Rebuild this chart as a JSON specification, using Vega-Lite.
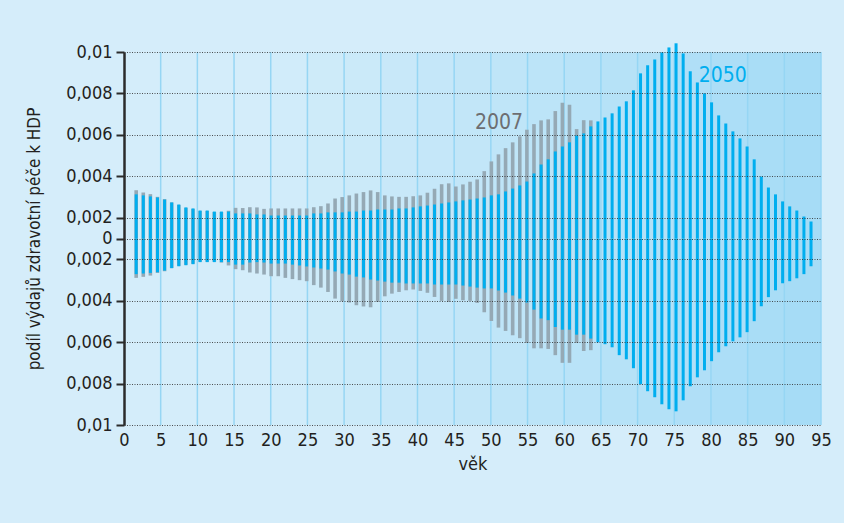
{
  "$schema": "https://vega.github.io/schema/vega-lite/v6.json",
  "width": 697,
  "height": 373,
  "autosize": {"type": "none"},
  "padding": {"left": 124, "top": 52, "right": 23, "bottom": 98},
  "background": "#d5edfa",
  "config": {
    "view": {"stroke": null},
    "font": "'DejaVu Sans Condensed', Roboto, sans-serif",
    "axis": {"labelFont": "'DejaVu Sans Condensed', Roboto, sans-serif", "titleFont": "'DejaVu Sans Condensed', Roboto, sans-serif"}
  },
  "datasets": {
    "bands": [
      {"start": 0, "end": 5}, {"start": 5, "end": 10}, {"start": 10, "end": 15}, {"start": 15, "end": 20},
      {"start": 20, "end": 25}, {"start": 25, "end": 30}, {"start": 30, "end": 35}, {"start": 35, "end": 40},
      {"start": 40, "end": 45}, {"start": 45, "end": 50}, {"start": 50, "end": 55}, {"start": 55, "end": 60},
      {"start": 60, "end": 65}, {"start": 65, "end": 70}, {"start": 70, "end": 75}, {"start": 75, "end": 80},
      {"start": 80, "end": 85}, {"start": 85, "end": 90}, {"start": 90, "end": 95}
    ],
    "labels": [
      {"label": "2007", "age": 51.1, "value": 0.00655, "rok": "2007"},
      {"label": "2050", "age": 81.6, "value": 0.00882, "rok": "2050"}
    ],
    "d": [
      {"age": 0, "up2007": 0.00333, "up2050": 0.00313, "down2050": 0.00272, "down2007": 0.0029},
      {"age": 1, "up2007": 0.00322, "up2050": 0.00308, "down2050": 0.00269, "down2007": 0.00285},
      {"age": 2, "up2007": 0.00314, "up2050": 0.00303, "down2050": 0.00266, "down2007": 0.00279},
      {"age": 3, "up2007": 0.00301, "up2050": 0.00298, "down2050": 0.00263, "down2007": 0.00266},
      {"age": 4, "up2007": 0.0029, "up2050": 0.00288, "down2050": 0.00255, "down2007": 0.00258},
      {"age": 5, "up2007": 0.00274, "up2050": 0.00274, "down2050": 0.00243, "down2007": 0.00243},
      {"age": 6, "up2007": 0.00262, "up2050": 0.00264, "down2050": 0.00234, "down2007": 0.00232},
      {"age": 7, "up2007": 0.00248, "up2050": 0.0025, "down2050": 0.00229, "down2007": 0.00227},
      {"age": 8, "up2007": 0.00243, "up2050": 0.00245, "down2050": 0.00224, "down2007": 0.00222},
      {"age": 9, "up2007": 0.00233, "up2050": 0.00235, "down2050": 0.00214, "down2007": 0.00212},
      {"age": 10, "up2007": 0.00233, "up2050": 0.00235, "down2050": 0.00214, "down2007": 0.00212},
      {"age": 11, "up2007": 0.00228, "up2050": 0.0023, "down2050": 0.00214, "down2007": 0.00212},
      {"age": 12, "up2007": 0.00228, "up2050": 0.0023, "down2050": 0.00214, "down2007": 0.00216},
      {"age": 13, "up2007": 0.00234, "up2050": 0.0023, "down2050": 0.00214, "down2007": 0.0023},
      {"age": 14, "up2007": 0.00248, "up2050": 0.00221, "down2050": 0.00226, "down2007": 0.00248},
      {"age": 15, "up2007": 0.00247, "up2050": 0.00221, "down2050": 0.00226, "down2007": 0.00253},
      {"age": 16, "up2007": 0.00251, "up2050": 0.00221, "down2050": 0.00216, "down2007": 0.00264},
      {"age": 17, "up2007": 0.0025, "up2050": 0.00216, "down2050": 0.00214, "down2007": 0.00269},
      {"age": 18, "up2007": 0.00243, "up2050": 0.00216, "down2050": 0.00216, "down2007": 0.00274},
      {"age": 19, "up2007": 0.00245, "up2050": 0.00211, "down2050": 0.00221, "down2007": 0.00282},
      {"age": 20, "up2007": 0.00245, "up2050": 0.00211, "down2050": 0.00221, "down2007": 0.00282},
      {"age": 21, "up2007": 0.00245, "up2050": 0.00211, "down2050": 0.00221, "down2007": 0.0029},
      {"age": 22, "up2007": 0.00245, "up2050": 0.00211, "down2050": 0.00226, "down2007": 0.00296},
      {"age": 23, "up2007": 0.00245, "up2050": 0.00211, "down2050": 0.0023, "down2007": 0.00301},
      {"age": 24, "up2007": 0.00245, "up2050": 0.00211, "down2050": 0.00235, "down2007": 0.00306},
      {"age": 25, "up2007": 0.00251, "up2050": 0.00221, "down2050": 0.0024, "down2007": 0.00325},
      {"age": 26, "up2007": 0.00256, "up2050": 0.00221, "down2050": 0.00245, "down2007": 0.00337},
      {"age": 27, "up2007": 0.00269, "up2050": 0.00226, "down2050": 0.0025, "down2007": 0.00358},
      {"age": 28, "up2007": 0.00293, "up2050": 0.00226, "down2050": 0.00259, "down2007": 0.0039},
      {"age": 29, "up2007": 0.003, "up2050": 0.00226, "down2050": 0.00269, "down2007": 0.00403},
      {"age": 30, "up2007": 0.00308, "up2050": 0.0023, "down2050": 0.00274, "down2007": 0.00409},
      {"age": 31, "up2007": 0.00317, "up2050": 0.0023, "down2050": 0.00284, "down2007": 0.00422},
      {"age": 32, "up2007": 0.00324, "up2050": 0.00235, "down2050": 0.00288, "down2007": 0.00428},
      {"age": 33, "up2007": 0.00332, "up2050": 0.00235, "down2050": 0.00298, "down2007": 0.00432},
      {"age": 34, "up2007": 0.00324, "up2050": 0.0024, "down2050": 0.00303, "down2007": 0.00406},
      {"age": 35, "up2007": 0.00308, "up2050": 0.0024, "down2050": 0.00308, "down2007": 0.00379},
      {"age": 36, "up2007": 0.00303, "up2050": 0.0024, "down2050": 0.00313, "down2007": 0.00366},
      {"age": 37, "up2007": 0.00301, "up2050": 0.00245, "down2050": 0.00313, "down2007": 0.00358},
      {"age": 38, "up2007": 0.00301, "up2050": 0.00245, "down2050": 0.00317, "down2007": 0.0035},
      {"age": 39, "up2007": 0.00304, "up2050": 0.0025, "down2050": 0.00317, "down2007": 0.00346},
      {"age": 40, "up2007": 0.00308, "up2050": 0.00255, "down2050": 0.00317, "down2007": 0.00353},
      {"age": 41, "up2007": 0.00321, "up2050": 0.00259, "down2050": 0.00317, "down2007": 0.00362},
      {"age": 42, "up2007": 0.0034, "up2050": 0.00264, "down2050": 0.00322, "down2007": 0.00382},
      {"age": 43, "up2007": 0.00362, "up2050": 0.00269, "down2050": 0.00322, "down2007": 0.00401},
      {"age": 44, "up2007": 0.00366, "up2050": 0.00274, "down2050": 0.00322, "down2007": 0.00406},
      {"age": 45, "up2007": 0.00351, "up2050": 0.00279, "down2050": 0.00322, "down2007": 0.00391},
      {"age": 46, "up2007": 0.00361, "up2050": 0.00284, "down2050": 0.00327, "down2007": 0.00398},
      {"age": 47, "up2007": 0.00374, "up2050": 0.00288, "down2050": 0.00332, "down2007": 0.00401},
      {"age": 48, "up2007": 0.00385, "up2050": 0.00293, "down2050": 0.00337, "down2007": 0.00411},
      {"age": 49, "up2007": 0.00425, "up2050": 0.00298, "down2050": 0.00341, "down2007": 0.00456},
      {"age": 50, "up2007": 0.00472, "up2050": 0.00308, "down2050": 0.00341, "down2007": 0.00498},
      {"age": 51, "up2007": 0.00506, "up2050": 0.00313, "down2050": 0.00351, "down2007": 0.0053},
      {"age": 52, "up2007": 0.00536, "up2050": 0.00327, "down2050": 0.00361, "down2007": 0.00546},
      {"age": 53, "up2007": 0.00564, "up2050": 0.00341, "down2050": 0.00375, "down2007": 0.00567},
      {"age": 54, "up2007": 0.00593, "up2050": 0.00356, "down2050": 0.0039, "down2007": 0.00581},
      {"age": 55, "up2007": 0.00625, "up2050": 0.00375, "down2050": 0.00409, "down2007": 0.00604},
      {"age": 56, "up2007": 0.00652, "up2050": 0.00414, "down2050": 0.00443, "down2007": 0.0063},
      {"age": 57, "up2007": 0.0067, "up2050": 0.00457, "down2050": 0.00486, "down2007": 0.0063},
      {"age": 58, "up2007": 0.00675, "up2050": 0.00482, "down2050": 0.00494, "down2007": 0.00633},
      {"age": 59, "up2007": 0.00715, "up2050": 0.0052, "down2050": 0.00527, "down2007": 0.00663},
      {"age": 60, "up2007": 0.00755, "up2050": 0.00544, "down2050": 0.0054, "down2007": 0.007},
      {"age": 61, "up2007": 0.00746, "up2050": 0.00564, "down2050": 0.0054, "down2007": 0.007},
      {"age": 62, "up2007": 0.00628, "up2050": 0.00597, "down2050": 0.00564, "down2007": 0.00604},
      {"age": 63, "up2007": 0.00671, "up2050": 0.00607, "down2050": 0.00564, "down2007": 0.00643},
      {"age": 64, "up2007": 0.0067, "up2050": 0.00641, "down2050": 0.00583, "down2007": 0.00639},
      {"age": 65, "up2007": null, "up2050": 0.00665, "down2050": 0.00601, "down2007": null},
      {"age": 66, "up2007": null, "up2050": 0.00684, "down2050": 0.0061, "down2007": null},
      {"age": 67, "up2007": null, "up2050": 0.00704, "down2050": 0.00625, "down2007": null},
      {"age": 68, "up2007": null, "up2050": 0.00737, "down2050": 0.00663, "down2007": null},
      {"age": 69, "up2007": null, "up2050": 0.00762, "down2050": 0.00683, "down2007": null},
      {"age": 70, "up2007": null, "up2050": 0.00815, "down2050": 0.00726, "down2007": null},
      {"age": 71, "up2007": null, "up2050": 0.00897, "down2050": 0.00803, "down2007": null},
      {"age": 72, "up2007": null, "up2050": 0.00936, "down2050": 0.00837, "down2007": null},
      {"age": 73, "up2007": null, "up2050": 0.00964, "down2050": 0.00866, "down2007": null},
      {"age": 74, "up2007": null, "up2050": 0.00998, "down2050": 0.009, "down2007": null},
      {"age": 75, "up2007": null, "up2050": 0.01022, "down2050": 0.00924, "down2007": null},
      {"age": 76, "up2007": null, "up2050": 0.01042, "down2050": 0.00934, "down2007": null},
      {"age": 77, "up2007": null, "up2050": 0.00993, "down2050": 0.00881, "down2007": null},
      {"age": 78, "up2007": null, "up2050": 0.00907, "down2050": 0.00813, "down2007": null},
      {"age": 79, "up2007": null, "up2050": 0.00853, "down2050": 0.0077, "down2007": null},
      {"age": 80, "up2007": null, "up2050": 0.008, "down2050": 0.00736, "down2007": null},
      {"age": 81, "up2007": null, "up2050": 0.00757, "down2050": 0.00692, "down2007": null},
      {"age": 82, "up2007": null, "up2050": 0.00694, "down2050": 0.00649, "down2007": null},
      {"age": 83, "up2007": null, "up2050": 0.00655, "down2050": 0.0062, "down2007": null},
      {"age": 84, "up2007": null, "up2050": 0.00617, "down2050": 0.00596, "down2007": null},
      {"age": 85, "up2007": null, "up2050": 0.00583, "down2050": 0.00577, "down2007": null},
      {"age": 86, "up2007": null, "up2050": 0.00544, "down2050": 0.00552, "down2007": null},
      {"age": 87, "up2007": null, "up2050": 0.00482, "down2050": 0.00499, "down2007": null},
      {"age": 88, "up2007": null, "up2050": 0.00399, "down2050": 0.00427, "down2007": null},
      {"age": 89, "up2007": null, "up2050": 0.00346, "down2050": 0.00383, "down2007": null},
      {"age": 90, "up2007": null, "up2050": 0.00313, "down2050": 0.0035, "down2007": null},
      {"age": 91, "up2007": null, "up2050": 0.00279, "down2050": 0.00316, "down2007": null},
      {"age": 92, "up2007": null, "up2050": 0.00255, "down2050": 0.00306, "down2007": null},
      {"age": 93, "up2007": null, "up2050": 0.00235, "down2050": 0.00292, "down2007": null},
      {"age": 94, "up2007": null, "up2050": 0.00206, "down2050": 0.00272, "down2007": null},
      {"age": 95, "up2007": null, "up2050": 0.00182, "down2050": 0.00234, "down2007": null}
    ]
  },
  "resolve": {"scale": {"x": "independent", "y": "independent"}},
  "layer": [
    {
      "data": {"name": "bands"},
      "mark": {"type": "rect"},
      "encoding": {
        "x": {
          "field": "start", "type": "quantitative",
          "scale": {"domain": [0, 95], "nice": false, "zero": false},
          "axis": {
            "orient": "bottom", "values": [0,5,10,15,20,25,30,35,40,45,50,55,60,65,70,75,80,85,90,95],
            "grid": false, "domain": false, "ticks": false, "labelPadding": 6,
            "labelFontSize": 18, "labelColor": "#231f20", "title": "věk",
            "titleFontSize": 18, "titleFontWeight": "normal", "titleColor": "#231f20", "titlePadding": 6,
            "labelFlush": false, "labelOverlap": false
          }
        },
        "x2": {"field": "end"},
        "color": {
          "field": "start", "type": "quantitative",
          "scale": {"domain": [15, 90], "range": ["#d4edfa", "#a6dcf6"], "clamp": true},
          "legend": null
        }
      }
    },
    {
      "data": {"name": "bands"},
      "mark": {"type": "rule", "color": "#96d6f4", "strokeWidth": 1.5},
      "encoding": {
        "x": {"field": "end", "type": "quantitative", "scale": {"domain": [0, 95], "nice": false, "zero": false}, "axis": null}
      }
    },
    {
      "data": {"name": "d"},
      "mark": {"type": "bar", "width": 3.6, "color": "#95a9b5"},
      "encoding": {
        "x": {"field": "age", "type": "quantitative", "scale": {"domain": [-1.01, 95.7], "nice": false, "zero": false}, "axis": null},
        "y": {"field": "up2007", "type": "quantitative", "scale": {"domain": [-0.008, 0.01], "nice": false, "zero": false},
          "axis": {
            "orient": "left", "zindex": 1,
            "values": [-0.008, -0.006, -0.004, -0.002, 0, 0.001, 0.002, 0.004, 0.006, 0.008, 0.01],
            "labelExpr": "datum.value > 0.0015 ? replace(format(datum.value, '.3~f'), '.', ',') : (datum.value > 0.0005 ? '0' : replace(format(0.002 - datum.value, '.3~f'), '.', ','))",
            "labelFontSize": 18, "labelColor": "#231f20", "labelPadding": 4,
            "domainColor": "#2b2b2b", "domainWidth": 2.5,
            "tickColor": "#2b2b2b", "tickWidth": 2, "tickSize": 8,
            "grid": true, "gridColor": "#333333", "gridDash": [1, 1.5], "gridWidth": 1, "gridOpacity": 0.85,
            "title": "podíl výdajů zdravotní péče k HDP", "titleFontSize": 17, "titleFontWeight": "normal",
            "titleColor": "#231f20", "titlePadding": 22, "labelOverlap": false, "labelFlush": false
          }
        },
        "y2": {"datum": 0.001}
      }
    },
    {
      "data": {"name": "d"},
      "mark": {"type": "bar", "width": 3.6, "color": "#95a9b5"},
      "encoding": {
        "x": {"field": "age", "type": "quantitative", "scale": {"domain": [-1.01, 95.7], "nice": false, "zero": false}, "axis": null},
        "y": {"field": "down2007", "type": "quantitative", "scale": {"domain": [-0.008, 0.01], "reverse": true, "nice": false, "zero": false}, "axis": null},
        "y2": {"datum": 0.001}
      }
    },
    {
      "data": {"name": "d"},
      "mark": {"type": "bar", "width": 3, "color": "#00aeef"},
      "encoding": {
        "x": {"field": "age", "type": "quantitative", "scale": {"domain": [-1.01, 95.7], "nice": false, "zero": false}, "axis": null},
        "y": {"field": "up2050", "type": "quantitative", "scale": {"domain": [-0.008, 0.01], "nice": false, "zero": false}, "axis": null},
        "y2": {"datum": 0.001}
      }
    },
    {
      "data": {"name": "d"},
      "mark": {"type": "bar", "width": 3, "color": "#00aeef"},
      "encoding": {
        "x": {"field": "age", "type": "quantitative", "scale": {"domain": [-1.01, 95.7], "nice": false, "zero": false}, "axis": null},
        "y": {"field": "down2050", "type": "quantitative", "scale": {"domain": [-0.008, 0.01], "reverse": true, "nice": false, "zero": false}, "axis": null},
        "y2": {"datum": 0.001}
      }
    },
    {
      "mark": {"type": "rule", "color": "#111111", "strokeWidth": 2.5},
      "encoding": {
        "y": {"datum": 0.001, "type": "quantitative", "scale": {"domain": [-0.008, 0.01], "nice": false, "zero": false}, "axis": null}
      }
    },
    {
      "data": {"name": "labels"},
      "mark": {"type": "text", "fontSize": 21, "align": "center", "baseline": "middle"},
      "encoding": {
        "x": {"field": "age", "type": "quantitative", "scale": {"domain": [0, 95], "nice": false, "zero": false}, "axis": null},
        "y": {"field": "value", "type": "quantitative", "scale": {"domain": [-0.008, 0.01], "nice": false, "zero": false}, "axis": null},
        "text": {"field": "label"},
        "color": {"field": "rok", "type": "nominal", "scale": {"domain": ["2007", "2050"], "range": ["#6d6e71", "#00aeef"]}, "legend": null}
      }
    }
  ]
}
